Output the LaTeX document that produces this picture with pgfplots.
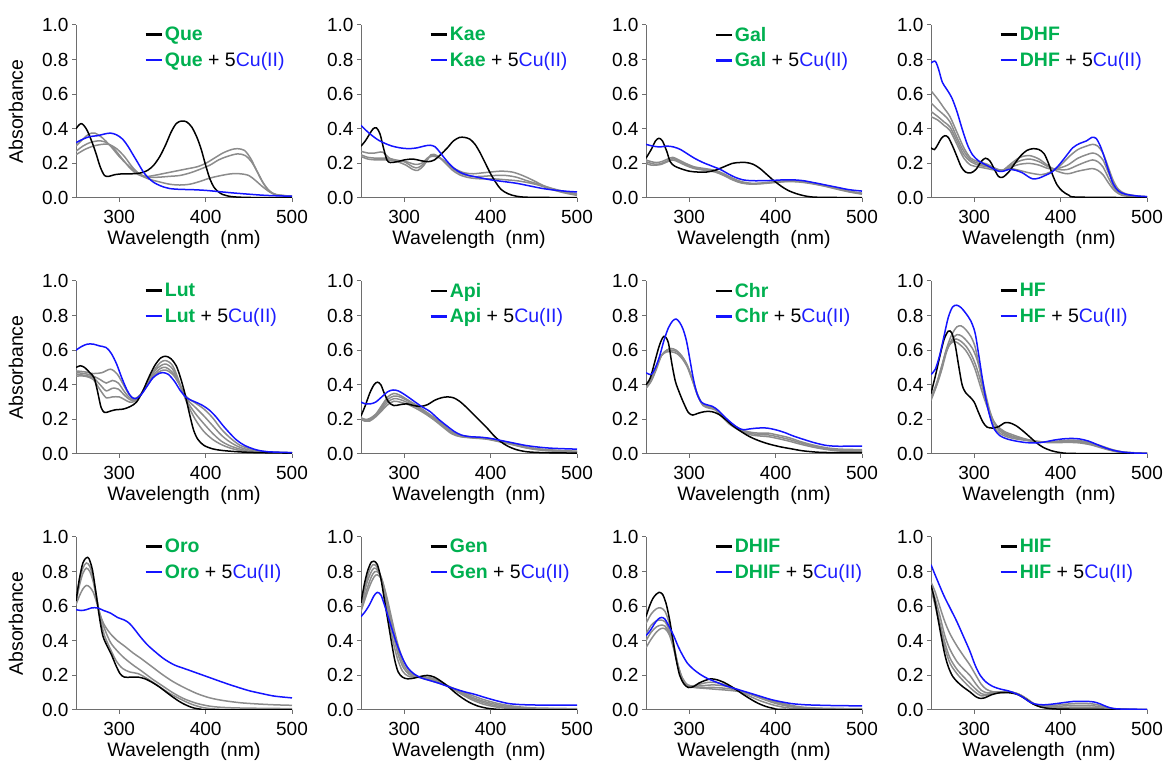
\documentclass[border=0pt]{standalone}
\usepackage{pgfplots}
\pgfplotsset{compat=1.18}
\usepackage{fontspec}
\setmainfont{Liberation Sans}
\definecolor{grn}{RGB}{0,176,80}
\definecolor{cublue}{RGB}{30,30,255}
\definecolor{lblue}{RGB}{20,20,255}
\definecolor{cgray}{RGB}{140,140,140}
\definecolor{axcol}{RGB}{110,110,110}
\newcommand\nm[1]{\textcolor{grn}{\textbf{#1}}}
\newcommand\cu{\textcolor{cublue}{Cu(II)}}
\newcommand\fs{\fontsize{19.5}{22}\selectfont}
\newcommand\ft{\fontsize{19}{21}\selectfont}
\pgfplotsset{
 panel/.style={
  scale only axis, width=216pt, height=173pt, anchor=south west,
  xmin=250, xmax=500, ymin=0, ymax=1,
  axis x line*=bottom, axis y line*=left,
  axis line style={axcol, line width=1pt, -},
  xtick={300,400,500}, ytick={0,0.2,0.4,0.6,0.8,1},
  tick align=outside, major tick length=4pt,
  tick style={axcol, line width=1pt},
  /pgf/number format/assume math mode=true,
  yticklabel style={/pgf/number format/.cd, fixed, fixed zerofill, precision=1, /tikz/.cd},
  xticklabel style={/pgf/number format/.cd, fixed, precision=0, 1000 sep={}, /tikz/.cd, yshift=-5pt},
  tick label style={font=\ft, text=black},
  label style={font=\fs},
  xlabel={Wavelength\ \ (nm)},
  xlabel style={yshift=0pt},
  ylabel style={yshift=12pt},
  legend style={draw=none, fill=none, font=\fs, at={(0.315,1.0)}, anchor=north west,
    row sep=6pt, inner sep=0pt},
  legend cell align=left,
  legend image code/.code={\draw[#1, line width=2.6pt] (0pt,0pt) -- (16pt,0pt);},
 },
 gr/.style={cgray, line width=1.5pt, smooth, forget plot},
 bk/.style={black, line width=1.5pt, smooth},
 bl/.style={lblue, line width=1.5pt, smooth},
}
\begin{document}
\begin{tikzpicture}
\useasboundingbox (0,0) rectangle (1167pt,762pt);
% ---------------- Row 1 ----------------
\begin{axis}[panel, at={(76pt,564pt)}, ylabel={Absorbance}]
\addplot[gr] coordinates {(250,0.30)(258,0.34)(265,0.37)(272,0.375)(280,0.35)(290,0.30)(300,0.24)(310,0.19)(320,0.15)(330,0.125)(340,0.13)(350,0.14)(360,0.15)(370,0.16)(380,0.17)(390,0.18)(400,0.20)(410,0.23)(420,0.26)(430,0.28)(437,0.285)(445,0.275)(452,0.23)(458,0.17)(465,0.10)(472,0.05)(480,0.02)(490,0.012)(500,0.01)};
\addplot[gr] coordinates {(250,0.27)(258,0.30)(266,0.32)(275,0.33)(283,0.325)(293,0.29)(303,0.23)(313,0.17)(322,0.135)(332,0.12)(345,0.12)(358,0.125)(370,0.13)(382,0.145)(393,0.165)(405,0.19)(415,0.22)(425,0.24)(437,0.255)(446,0.245)(453,0.21)(460,0.15)(467,0.085)(474,0.04)(482,0.02)(500,0.01)};
\addplot[gr] coordinates {(250,0.25)(260,0.28)(270,0.30)(280,0.31)(288,0.31)(297,0.285)(306,0.24)(315,0.18)(324,0.135)(334,0.11)(345,0.095)(358,0.08)(370,0.075)(382,0.08)(393,0.095)(405,0.115)(418,0.13)(430,0.14)(440,0.14)(450,0.13)(458,0.10)(466,0.065)(474,0.035)(482,0.018)(500,0.01)};
\addplot[bk] coordinates {(250,0.40)(253,0.42)(256,0.43)(259,0.42)(263,0.39)(268,0.33)(273,0.26)(278,0.18)(283,0.13)(288,0.125)(295,0.135)(305,0.14)(315,0.14)(325,0.145)(333,0.16)(340,0.19)(347,0.24)(354,0.31)(360,0.38)(366,0.43)(372,0.445)(378,0.44)(384,0.41)(390,0.35)(395,0.28)(400,0.19)(405,0.11)(410,0.06)(415,0.035)(420,0.02)(430,0.008)(450,0.003)(500,0.002)};
\addplot[bl] coordinates {(250,0.32)(258,0.34)(266,0.355)(275,0.36)(283,0.37)(290,0.375)(297,0.365)(304,0.34)(310,0.30)(316,0.25)(322,0.20)(328,0.15)(334,0.115)(340,0.09)(348,0.07)(358,0.055)(370,0.05)(385,0.048)(400,0.044)(415,0.037)(430,0.03)(450,0.022)(470,0.015)(500,0.01)};
\legend{\nm{Que}, \nm{Que} + 5\cu}
\end{axis}
\begin{axis}[panel, at={(361pt,564pt)}]
\addplot[gr] coordinates {(250,0.27)(258,0.26)(266,0.26)(275,0.265)(283,0.23)(292,0.215)(302,0.21)(312,0.195)(320,0.20)(328,0.235)(335,0.24)(342,0.23)(350,0.20)(360,0.165)(370,0.145)(380,0.14)(390,0.145)(400,0.15)(412,0.155)(425,0.15)(437,0.13)(450,0.10)(462,0.07)(475,0.05)(488,0.035)(500,0.025)};
\addplot[gr] coordinates {(250,0.25)(258,0.235)(268,0.23)(280,0.23)(290,0.22)(300,0.21)(310,0.18)(316,0.175)(323,0.20)(331,0.245)(338,0.24)(346,0.215)(356,0.17)(366,0.14)(378,0.125)(390,0.125)(405,0.13)(418,0.13)(430,0.12)(442,0.10)(455,0.08)(470,0.055)(485,0.035)(500,0.02)};
\addplot[gr] coordinates {(250,0.24)(258,0.225)(268,0.22)(282,0.22)(292,0.21)(302,0.19)(310,0.165)(316,0.16)(323,0.19)(331,0.25)(338,0.245)(346,0.21)(356,0.16)(366,0.13)(378,0.115)(392,0.11)(405,0.11)(418,0.105)(430,0.10)(442,0.09)(455,0.075)(470,0.05)(485,0.03)(500,0.015)};
\addplot[bk] coordinates {(250,0.30)(255,0.33)(260,0.37)(264,0.40)(268,0.405)(272,0.37)(276,0.29)(280,0.22)(284,0.205)(292,0.21)(300,0.22)(310,0.225)(320,0.215)(328,0.21)(335,0.22)(342,0.25)(350,0.29)(357,0.33)(364,0.35)(370,0.35)(376,0.34)(382,0.31)(388,0.26)(394,0.20)(400,0.14)(406,0.09)(412,0.05)(420,0.025)(430,0.01)(445,0.004)(500,0.002)};
\addplot[bl] coordinates {(250,0.42)(256,0.39)(263,0.36)(270,0.335)(278,0.315)(286,0.30)(295,0.29)(305,0.285)(315,0.29)(323,0.30)(330,0.305)(336,0.295)(342,0.26)(350,0.21)(358,0.17)(366,0.145)(375,0.13)(385,0.12)(400,0.105)(415,0.095)(430,0.085)(445,0.07)(460,0.055)(475,0.045)(490,0.038)(500,0.035)};
\legend{\nm{Kae}, \nm{Kae} + 5\cu}
\end{axis}
\begin{axis}[panel, at={(646pt,564pt)}]
\addplot[gr] coordinates {(250,0.22)(256,0.21)(262,0.205)(268,0.21)(275,0.225)(281,0.235)(288,0.22)(296,0.20)(306,0.18)(318,0.17)(330,0.16)(340,0.14)(350,0.115)(360,0.095)(372,0.085)(385,0.087)(400,0.095)(415,0.10)(428,0.098)(440,0.09)(455,0.075)(470,0.058)(485,0.04)(500,0.028)};
\addplot[gr] coordinates {(250,0.21)(256,0.20)(262,0.195)(268,0.20)(275,0.215)(281,0.228)(288,0.213)(296,0.193)(306,0.175)(318,0.165)(330,0.155)(340,0.135)(350,0.11)(360,0.09)(372,0.082)(385,0.085)(400,0.092)(415,0.097)(428,0.095)(440,0.087)(455,0.072)(470,0.055)(485,0.038)(500,0.025)};
\addplot[gr] coordinates {(250,0.20)(256,0.19)(262,0.19)(268,0.195)(275,0.21)(281,0.22)(288,0.207)(296,0.188)(306,0.17)(318,0.16)(330,0.15)(340,0.13)(350,0.105)(360,0.087)(372,0.08)(385,0.083)(400,0.09)(415,0.095)(428,0.092)(440,0.084)(455,0.07)(470,0.052)(485,0.035)(500,0.022)};
\addplot[bk] coordinates {(250,0.23)(256,0.28)(261,0.33)(265,0.345)(269,0.33)(274,0.27)(278,0.21)(283,0.185)(290,0.17)(300,0.155)(310,0.15)(320,0.15)(330,0.16)(340,0.18)(350,0.20)(358,0.205)(366,0.205)(374,0.195)(382,0.17)(390,0.135)(398,0.10)(406,0.07)(414,0.045)(424,0.025)(436,0.01)(450,0.004)(500,0.002)};
\addplot[bl] coordinates {(250,0.31)(258,0.30)(266,0.295)(274,0.30)(282,0.295)(290,0.28)(298,0.255)(306,0.23)(316,0.205)(326,0.185)(336,0.165)(345,0.14)(353,0.12)(362,0.105)(372,0.10)(385,0.10)(398,0.102)(410,0.105)(420,0.105)(432,0.10)(445,0.088)(458,0.075)(470,0.063)(485,0.048)(500,0.04)};
\legend{\nm{Gal}, \nm{Gal} + 5\cu}
\end{axis}
\begin{axis}[panel, at={(931pt,564pt)}]
\addplot[gr] coordinates {(250,0.62)(258,0.57)(265,0.52)(272,0.47)(280,0.38)(288,0.29)(296,0.23)(305,0.21)(315,0.195)(325,0.17)(333,0.16)(342,0.17)(352,0.16)(364,0.145)(378,0.135)(388,0.15)(398,0.18)(410,0.24)(420,0.28)(430,0.30)(437,0.31)(443,0.30)(449,0.26)(455,0.18)(461,0.10)(467,0.05)(475,0.025)(488,0.012)(500,0.008)};
\addplot[gr] coordinates {(250,0.55)(258,0.51)(265,0.48)(272,0.44)(280,0.35)(288,0.27)(296,0.22)(305,0.20)(315,0.185)(325,0.165)(333,0.16)(343,0.18)(353,0.195)(364,0.20)(375,0.19)(386,0.17)(396,0.17)(408,0.19)(420,0.23)(430,0.25)(437,0.26)(443,0.25)(449,0.22)(455,0.15)(461,0.085)(467,0.04)(475,0.02)(488,0.01)(500,0.006)};
\addplot[gr] coordinates {(250,0.50)(258,0.47)(265,0.44)(272,0.41)(280,0.33)(288,0.25)(296,0.21)(305,0.19)(315,0.18)(325,0.165)(333,0.16)(343,0.19)(353,0.215)(364,0.225)(375,0.21)(386,0.18)(396,0.165)(408,0.165)(420,0.19)(430,0.21)(437,0.22)(443,0.21)(449,0.18)(455,0.12)(461,0.065)(467,0.03)(475,0.015)(500,0.005)};
\addplot[gr] coordinates {(250,0.47)(258,0.45)(265,0.42)(272,0.39)(280,0.31)(288,0.23)(296,0.19)(305,0.18)(315,0.17)(325,0.16)(333,0.16)(343,0.20)(353,0.235)(364,0.245)(375,0.225)(386,0.185)(396,0.155)(408,0.14)(420,0.155)(430,0.165)(437,0.17)(443,0.16)(449,0.135)(455,0.09)(461,0.05)(467,0.025)(475,0.012)(500,0.004)};
\addplot[bk] coordinates {(250,0.29)(254,0.28)(258,0.31)(262,0.345)(266,0.36)(270,0.35)(275,0.30)(280,0.24)(285,0.18)(290,0.15)(296,0.145)(302,0.165)(308,0.21)(313,0.23)(318,0.215)(323,0.17)(328,0.125)(333,0.12)(340,0.15)(347,0.20)(354,0.245)(361,0.275)(368,0.285)(375,0.28)(381,0.255)(386,0.20)(391,0.13)(396,0.075)(402,0.04)(410,0.015)(420,0.005)(500,0.002)};
\addplot[bl] coordinates {(250,0.78)(255,0.79)(259,0.74)(263,0.67)(268,0.63)(274,0.58)(280,0.50)(286,0.40)(292,0.31)(298,0.25)(305,0.215)(312,0.195)(320,0.175)(328,0.155)(334,0.155)(340,0.165)(348,0.16)(356,0.145)(362,0.125)(368,0.11)(375,0.115)(382,0.13)(390,0.15)(398,0.19)(406,0.24)(414,0.29)(422,0.315)(430,0.33)(436,0.35)(441,0.345)(446,0.30)(451,0.23)(456,0.15)(461,0.08)(467,0.04)(475,0.022)(488,0.012)(500,0.008)};
\legend{\nm{DHF}, \nm{DHF} + 5\cu}
\end{axis}
% ---------------- Row 2 ----------------
\begin{axis}[panel, at={(76pt,308pt)}, ylabel={Absorbance}]
\addplot[gr] coordinates {(250,0.48)(260,0.475)(270,0.465)(280,0.47)(290,0.49)(298,0.46)(306,0.39)(312,0.34)(318,0.32)(325,0.345)(333,0.40)(341,0.455)(348,0.48)(354,0.485)(362,0.46)(370,0.40)(378,0.33)(388,0.295)(398,0.26)(408,0.21)(418,0.145)(428,0.095)(440,0.05)(455,0.025)(470,0.013)(500,0.008)};
\addplot[gr] coordinates {(250,0.47)(260,0.465)(270,0.45)(278,0.43)(285,0.41)(292,0.425)(299,0.41)(306,0.36)(312,0.325)(318,0.315)(325,0.345)(333,0.405)(341,0.465)(348,0.495)(354,0.50)(362,0.47)(370,0.40)(378,0.32)(388,0.27)(398,0.22)(408,0.165)(418,0.11)(428,0.07)(440,0.038)(455,0.018)(470,0.01)(500,0.006)};
\addplot[gr] coordinates {(250,0.46)(260,0.455)(270,0.44)(278,0.40)(285,0.365)(292,0.38)(299,0.375)(306,0.34)(312,0.315)(318,0.31)(325,0.345)(333,0.41)(341,0.48)(348,0.51)(354,0.52)(362,0.49)(370,0.40)(378,0.31)(388,0.235)(398,0.175)(408,0.12)(418,0.075)(428,0.048)(440,0.028)(455,0.014)(500,0.005)};
\addplot[gr] coordinates {(250,0.45)(260,0.45)(270,0.43)(278,0.37)(285,0.325)(292,0.33)(300,0.33)(306,0.315)(312,0.30)(318,0.305)(325,0.345)(333,0.42)(341,0.49)(348,0.53)(354,0.54)(362,0.51)(370,0.41)(378,0.30)(388,0.20)(398,0.13)(408,0.085)(418,0.055)(428,0.035)(440,0.02)(455,0.01)(500,0.005)};
\addplot[bk] coordinates {(250,0.50)(255,0.51)(260,0.50)(266,0.47)(271,0.44)(275,0.36)(279,0.27)(283,0.24)(288,0.245)(295,0.255)(305,0.26)(313,0.275)(320,0.30)(327,0.36)(334,0.44)(341,0.51)(348,0.555)(354,0.565)(360,0.55)(366,0.51)(371,0.44)(376,0.35)(381,0.24)(386,0.14)(391,0.085)(398,0.05)(408,0.03)(420,0.02)(440,0.012)(460,0.008)(500,0.005)};
\addplot[bl] coordinates {(250,0.60)(256,0.62)(263,0.635)(270,0.635)(277,0.625)(285,0.615)(291,0.58)(297,0.52)(303,0.44)(309,0.37)(314,0.33)(319,0.32)(325,0.34)(332,0.39)(339,0.44)(346,0.465)(351,0.47)(357,0.46)(364,0.42)(371,0.365)(378,0.325)(386,0.305)(395,0.285)(404,0.255)(412,0.215)(420,0.165)(428,0.12)(436,0.08)(445,0.05)(458,0.025)(472,0.013)(500,0.008)};
\legend{\nm{Lut}, \nm{Lut} + 5\cu}
\end{axis}
\begin{axis}[panel, at={(361pt,308pt)}]
\addplot[gr] coordinates {(250,0.21)(255,0.20)(260,0.205)(267,0.23)(274,0.28)(281,0.33)(288,0.35)(295,0.34)(305,0.31)(315,0.28)(325,0.245)(335,0.21)(345,0.17)(355,0.13)(365,0.108)(380,0.098)(395,0.092)(410,0.077)(425,0.06)(440,0.042)(455,0.03)(475,0.022)(500,0.016)};
\addplot[gr] coordinates {(250,0.205)(255,0.195)(260,0.2)(267,0.225)(274,0.27)(281,0.315)(288,0.335)(295,0.33)(305,0.305)(315,0.275)(325,0.24)(335,0.205)(345,0.165)(355,0.125)(365,0.105)(380,0.096)(395,0.09)(410,0.075)(425,0.058)(440,0.04)(455,0.028)(475,0.02)(500,0.014)};
\addplot[gr] coordinates {(250,0.20)(255,0.19)(260,0.195)(267,0.22)(274,0.26)(281,0.30)(288,0.32)(295,0.315)(305,0.295)(315,0.27)(325,0.235)(335,0.20)(345,0.16)(355,0.12)(365,0.102)(380,0.094)(395,0.088)(410,0.073)(425,0.056)(440,0.038)(455,0.026)(475,0.018)(500,0.012)};
\addplot[gr] coordinates {(250,0.20)(255,0.19)(260,0.19)(267,0.215)(274,0.25)(281,0.285)(288,0.305)(295,0.30)(305,0.285)(315,0.26)(325,0.23)(335,0.195)(345,0.155)(355,0.117)(365,0.10)(380,0.092)(395,0.086)(410,0.071)(425,0.054)(440,0.036)(455,0.024)(475,0.016)(500,0.01)};
\addplot[bk] coordinates {(250,0.22)(255,0.28)(260,0.35)(265,0.40)(269,0.415)(273,0.40)(277,0.35)(282,0.30)(288,0.28)(295,0.285)(303,0.29)(311,0.28)(319,0.275)(327,0.285)(335,0.31)(343,0.325)(350,0.33)(357,0.325)(364,0.305)(372,0.27)(380,0.23)(388,0.19)(396,0.15)(404,0.105)(412,0.07)(420,0.045)(430,0.025)(442,0.013)(460,0.008)(500,0.005)};
\addplot[bl] coordinates {(250,0.30)(255,0.29)(261,0.29)(267,0.30)(274,0.33)(281,0.36)(287,0.37)(293,0.365)(300,0.345)(310,0.31)(320,0.275)(330,0.245)(340,0.20)(350,0.16)(358,0.13)(366,0.11)(376,0.10)(388,0.097)(400,0.09)(412,0.078)(425,0.065)(440,0.05)(455,0.04)(472,0.033)(500,0.028)};
\legend{\nm{Api}, \nm{Api} + 5\cu}
\end{axis}
\begin{axis}[panel, at={(646pt,308pt)}]
\addplot[gr] coordinates {(250,0.38)(256,0.42)(262,0.49)(268,0.57)(274,0.60)(279,0.61)(285,0.60)(291,0.57)(297,0.52)(303,0.44)(309,0.35)(315,0.29)(322,0.275)(330,0.265)(338,0.225)(346,0.185)(355,0.155)(363,0.135)(372,0.125)(382,0.12)(392,0.12)(402,0.11)(415,0.095)(430,0.07)(445,0.05)(460,0.035)(475,0.028)(500,0.025)};
\addplot[gr] coordinates {(250,0.38)(256,0.43)(262,0.50)(268,0.57)(274,0.60)(280,0.60)(286,0.59)(292,0.56)(298,0.51)(304,0.43)(310,0.34)(316,0.285)(323,0.27)(330,0.26)(338,0.22)(346,0.18)(355,0.15)(363,0.13)(372,0.118)(382,0.112)(392,0.11)(402,0.10)(415,0.085)(430,0.063)(445,0.045)(460,0.03)(475,0.022)(500,0.018)};
\addplot[gr] coordinates {(250,0.38)(256,0.44)(262,0.51)(268,0.57)(274,0.59)(280,0.59)(286,0.58)(292,0.55)(298,0.50)(304,0.42)(310,0.335)(316,0.28)(323,0.265)(330,0.255)(338,0.215)(346,0.175)(355,0.145)(363,0.125)(372,0.11)(382,0.104)(392,0.10)(402,0.09)(415,0.075)(430,0.055)(445,0.038)(460,0.025)(475,0.017)(500,0.012)};
\addplot[bk] coordinates {(250,0.40)(255,0.44)(260,0.53)(265,0.62)(269,0.67)(272,0.68)(276,0.64)(280,0.52)(284,0.42)(289,0.35)(294,0.29)(299,0.24)(304,0.225)(310,0.235)(318,0.245)(326,0.245)(334,0.23)(342,0.20)(350,0.165)(360,0.13)(370,0.10)(380,0.078)(392,0.058)(405,0.042)(418,0.03)(432,0.018)(450,0.01)(470,0.008)(500,0.008)};
\addplot[bl] coordinates {(250,0.47)(256,0.46)(261,0.50)(266,0.57)(271,0.66)(276,0.73)(281,0.77)(285,0.78)(289,0.76)(293,0.72)(297,0.65)(301,0.54)(305,0.43)(309,0.35)(314,0.30)(320,0.285)(327,0.275)(334,0.25)(342,0.21)(350,0.175)(357,0.15)(363,0.14)(370,0.145)(380,0.15)(390,0.15)(400,0.14)(410,0.125)(420,0.105)(432,0.085)(445,0.065)(458,0.05)(470,0.045)(485,0.045)(500,0.045)};
\legend{\nm{Chr}, \nm{Chr} + 5\cu}
\end{axis}
\begin{axis}[panel, at={(931pt,308pt)}]
\addplot[gr] coordinates {(250,0.33)(256,0.40)(262,0.50)(268,0.61)(274,0.69)(280,0.735)(285,0.74)(290,0.72)(296,0.68)(301,0.62)(306,0.50)(311,0.37)(316,0.26)(321,0.18)(327,0.13)(335,0.105)(345,0.09)(358,0.08)(370,0.072)(385,0.07)(398,0.075)(410,0.08)(422,0.077)(435,0.065)(448,0.045)(460,0.025)(472,0.012)(485,0.006)(500,0.005)};
\addplot[gr] coordinates {(250,0.32)(256,0.39)(262,0.48)(268,0.59)(274,0.66)(280,0.69)(286,0.68)(292,0.65)(298,0.61)(303,0.55)(308,0.46)(313,0.35)(318,0.25)(323,0.18)(329,0.135)(337,0.11)(347,0.095)(358,0.083)(370,0.073)(385,0.07)(398,0.073)(410,0.077)(422,0.074)(435,0.062)(448,0.042)(460,0.023)(472,0.011)(485,0.006)(500,0.005)};
\addplot[gr] coordinates {(250,0.31)(256,0.39)(262,0.49)(268,0.60)(274,0.65)(279,0.665)(285,0.65)(291,0.62)(297,0.57)(302,0.51)(307,0.43)(312,0.34)(317,0.26)(322,0.195)(328,0.15)(336,0.12)(346,0.10)(358,0.086)(370,0.074)(385,0.068)(398,0.07)(410,0.073)(422,0.07)(435,0.058)(448,0.038)(460,0.02)(472,0.01)(500,0.005)};
\addplot[gr] coordinates {(250,0.32)(256,0.40)(262,0.50)(268,0.60)(273,0.64)(278,0.65)(284,0.63)(290,0.60)(296,0.55)(301,0.49)(306,0.41)(311,0.33)(316,0.26)(321,0.20)(327,0.16)(335,0.13)(345,0.11)(357,0.09)(370,0.075)(385,0.066)(398,0.066)(410,0.067)(422,0.064)(435,0.053)(448,0.034)(460,0.018)(472,0.009)(500,0.005)};
\addplot[bk] coordinates {(250,0.35)(255,0.45)(260,0.56)(265,0.66)(270,0.71)(274,0.70)(278,0.63)(282,0.51)(286,0.40)(290,0.355)(295,0.33)(300,0.30)(305,0.24)(310,0.185)(315,0.155)(322,0.15)(329,0.16)(335,0.18)(341,0.18)(348,0.165)(356,0.135)(364,0.10)(372,0.065)(380,0.038)(390,0.018)(400,0.008)(415,0.003)(500,0.001)};
\addplot[bl] coordinates {(250,0.46)(255,0.49)(260,0.57)(265,0.68)(270,0.79)(275,0.85)(280,0.86)(285,0.845)(290,0.815)(296,0.77)(301,0.70)(305,0.58)(309,0.45)(313,0.33)(318,0.22)(323,0.145)(330,0.105)(338,0.087)(348,0.075)(360,0.066)(372,0.064)(382,0.07)(392,0.08)(402,0.087)(412,0.09)(422,0.087)(432,0.075)(442,0.055)(452,0.035)(462,0.02)(474,0.01)(488,0.005)(500,0.004)};
\legend{\nm{HF}, \nm{HF} + 5\cu}
\end{axis}
% ---------------- Row 3 ----------------
\begin{axis}[panel, at={(76pt,52pt)}, ylabel={Absorbance}]
\addplot[gr] coordinates {(250,0.62)(254,0.72)(258,0.79)(262,0.82)(266,0.80)(270,0.74)(274,0.64)(278,0.55)(283,0.49)(290,0.44)(298,0.40)(306,0.37)(316,0.33)(326,0.295)(338,0.25)(350,0.205)(362,0.165)(375,0.13)(390,0.095)(405,0.07)(420,0.055)(440,0.042)(460,0.035)(480,0.03)(500,0.027)};
\addplot[gr] coordinates {(250,0.61)(254,0.66)(258,0.70)(262,0.72)(266,0.71)(270,0.68)(274,0.62)(278,0.55)(283,0.47)(290,0.39)(298,0.34)(306,0.30)(316,0.26)(326,0.225)(338,0.18)(350,0.14)(362,0.10)(375,0.065)(390,0.038)(405,0.022)(420,0.015)(445,0.011)(500,0.008)};
\addplot[gr] coordinates {(250,0.63)(254,0.75)(258,0.82)(262,0.85)(266,0.83)(270,0.76)(274,0.65)(278,0.53)(283,0.43)(290,0.35)(297,0.28)(304,0.24)(312,0.22)(322,0.21)(333,0.18)(345,0.14)(357,0.10)(370,0.065)(383,0.035)(396,0.015)(410,0.006)(430,0.003)(500,0.002)};
\addplot[bk] coordinates {(250,0.63)(254,0.76)(258,0.85)(262,0.88)(265,0.875)(269,0.81)(273,0.68)(277,0.54)(281,0.43)(286,0.37)(291,0.32)(296,0.26)(301,0.21)(306,0.19)(314,0.19)(322,0.19)(330,0.18)(338,0.16)(346,0.135)(354,0.105)(362,0.075)(370,0.048)(378,0.027)(386,0.012)(395,0.004)(405,0.001)(500,0)};
\addplot[bl] coordinates {(250,0.58)(256,0.575)(262,0.58)(268,0.59)(275,0.59)(282,0.575)(290,0.56)(298,0.535)(306,0.52)(312,0.50)(318,0.465)(325,0.42)(333,0.375)(342,0.335)(352,0.295)(364,0.26)(378,0.235)(392,0.21)(406,0.185)(420,0.16)(435,0.135)(450,0.112)(465,0.095)(480,0.08)(500,0.07)};
\legend{\nm{Oro}, \nm{Oro} + 5\cu}
\end{axis}
\begin{axis}[panel, at={(361pt,52pt)}]
\addplot[gr] coordinates {(250,0.60)(256,0.74)(260,0.81)(264,0.84)(268,0.83)(272,0.78)(277,0.67)(282,0.53)(287,0.40)(292,0.30)(298,0.225)(305,0.195)(315,0.19)(327,0.19)(340,0.17)(352,0.135)(365,0.095)(378,0.06)(392,0.033)(408,0.016)(425,0.008)(450,0.004)(500,0.002)};
\addplot[gr] coordinates {(250,0.59)(256,0.72)(261,0.79)(265,0.82)(269,0.81)(273,0.77)(278,0.67)(283,0.54)(288,0.42)(293,0.32)(299,0.245)(306,0.205)(315,0.19)(327,0.185)(340,0.165)(352,0.135)(365,0.10)(378,0.068)(392,0.042)(408,0.022)(425,0.012)(450,0.006)(500,0.004)};
\addplot[gr] coordinates {(250,0.58)(257,0.70)(262,0.77)(266,0.80)(270,0.795)(274,0.76)(279,0.66)(284,0.54)(289,0.43)(294,0.33)(300,0.255)(307,0.21)(316,0.19)(327,0.18)(340,0.16)(352,0.135)(365,0.105)(378,0.075)(392,0.05)(408,0.03)(425,0.017)(450,0.009)(500,0.006)};
\addplot[gr] coordinates {(250,0.57)(258,0.69)(263,0.75)(267,0.78)(271,0.775)(275,0.74)(280,0.65)(285,0.54)(290,0.43)(295,0.34)(301,0.265)(308,0.215)(317,0.19)(327,0.175)(340,0.155)(352,0.135)(365,0.11)(378,0.085)(392,0.06)(408,0.038)(425,0.023)(450,0.012)(500,0.008)};
\addplot[bk] coordinates {(250,0.62)(254,0.73)(258,0.81)(262,0.855)(265,0.86)(269,0.84)(273,0.76)(277,0.64)(281,0.52)(285,0.40)(289,0.29)(293,0.22)(298,0.19)(304,0.18)(312,0.185)(320,0.195)(327,0.20)(335,0.19)(343,0.165)(351,0.135)(359,0.10)(367,0.07)(375,0.045)(384,0.025)(394,0.012)(405,0.005)(420,0.002)(500,0.001)};
\addplot[bl] coordinates {(250,0.54)(255,0.57)(260,0.61)(265,0.66)(269,0.68)(273,0.665)(277,0.61)(282,0.53)(287,0.45)(292,0.375)(298,0.30)(304,0.245)(311,0.21)(320,0.185)(330,0.17)(340,0.155)(350,0.137)(360,0.12)(370,0.105)(382,0.09)(395,0.07)(408,0.052)(420,0.038)(432,0.032)(450,0.029)(475,0.028)(500,0.028)};
\legend{\nm{Gen}, \nm{Gen} + 5\cu}
\end{axis}
\begin{axis}[panel, at={(646pt,52pt)}]
\addplot[gr] coordinates {(250,0.50)(256,0.555)(262,0.585)(267,0.59)(272,0.57)(277,0.50)(282,0.38)(287,0.26)(292,0.185)(298,0.145)(305,0.14)(313,0.15)(322,0.16)(332,0.158)(342,0.145)(352,0.125)(362,0.10)(372,0.075)(384,0.05)(398,0.028)(412,0.014)(430,0.007)(500,0.003)};
\addplot[gr] coordinates {(250,0.44)(256,0.49)(262,0.515)(267,0.52)(272,0.51)(277,0.46)(282,0.37)(287,0.26)(292,0.185)(298,0.145)(305,0.138)(315,0.14)(327,0.145)(340,0.14)(352,0.125)(364,0.103)(376,0.08)(388,0.058)(400,0.038)(414,0.022)(430,0.012)(455,0.007)(500,0.005)};
\addplot[gr] coordinates {(250,0.40)(256,0.45)(262,0.48)(267,0.49)(272,0.485)(277,0.445)(282,0.36)(287,0.255)(292,0.18)(298,0.14)(306,0.132)(318,0.13)(330,0.13)(343,0.125)(356,0.115)(368,0.097)(380,0.078)(392,0.058)(405,0.038)(418,0.022)(432,0.013)(455,0.008)(500,0.006)};
\addplot[gr] coordinates {(250,0.36)(256,0.41)(262,0.45)(267,0.47)(272,0.47)(277,0.435)(282,0.355)(287,0.25)(292,0.18)(298,0.14)(306,0.13)(318,0.125)(330,0.12)(343,0.115)(356,0.108)(368,0.095)(380,0.08)(392,0.062)(405,0.043)(418,0.027)(432,0.016)(455,0.01)(500,0.008)};
\addplot[bk] coordinates {(250,0.54)(254,0.60)(258,0.645)(262,0.67)(265,0.68)(269,0.67)(273,0.62)(277,0.53)(281,0.41)(285,0.29)(289,0.20)(294,0.15)(299,0.13)(305,0.135)(311,0.155)(318,0.17)(325,0.18)(332,0.175)(340,0.16)(348,0.138)(356,0.112)(364,0.085)(372,0.06)(380,0.038)(389,0.02)(398,0.009)(410,0.003)(500,0.001)};
\addplot[bl] coordinates {(250,0.43)(255,0.46)(260,0.50)(264,0.525)(268,0.535)(272,0.525)(277,0.48)(282,0.43)(287,0.37)(292,0.32)(298,0.27)(305,0.235)(313,0.205)(322,0.18)(332,0.16)(342,0.14)(352,0.125)(362,0.11)(372,0.095)(383,0.078)(395,0.06)(408,0.046)(420,0.036)(435,0.03)(455,0.027)(475,0.025)(500,0.024)};
\legend{\nm{DHIF}, \nm{DHIF} + 5\cu}
\end{axis}
\begin{axis}[panel, at={(931pt,52pt)}]
\addplot[gr] coordinates {(250,0.74)(255,0.68)(260,0.60)(266,0.51)(272,0.44)(280,0.37)(288,0.31)(295,0.26)(302,0.20)(308,0.15)(314,0.12)(322,0.105)(332,0.105)(342,0.105)(352,0.09)(361,0.065)(370,0.035)(380,0.026)(392,0.027)(405,0.033)(418,0.038)(430,0.038)(440,0.033)(450,0.02)(460,0.009)(475,0.004)(500,0.002)};
\addplot[gr] coordinates {(250,0.72)(255,0.64)(260,0.55)(266,0.43)(272,0.35)(280,0.28)(288,0.235)(295,0.20)(302,0.15)(308,0.115)(314,0.10)(322,0.10)(332,0.105)(342,0.105)(352,0.09)(361,0.063)(370,0.033)(380,0.022)(392,0.02)(405,0.024)(418,0.027)(430,0.027)(440,0.023)(450,0.014)(460,0.006)(475,0.003)(500,0.002)};
\addplot[gr] coordinates {(250,0.71)(255,0.61)(260,0.51)(266,0.39)(272,0.30)(280,0.235)(288,0.19)(295,0.155)(302,0.12)(308,0.095)(314,0.09)(322,0.097)(332,0.102)(342,0.103)(352,0.09)(361,0.062)(370,0.032)(380,0.018)(392,0.013)(405,0.015)(418,0.017)(430,0.017)(440,0.014)(450,0.009)(460,0.004)(500,0.002)};
\addplot[gr] coordinates {(250,0.70)(255,0.60)(260,0.49)(266,0.36)(272,0.27)(280,0.21)(288,0.165)(295,0.13)(302,0.10)(308,0.082)(314,0.085)(322,0.095)(332,0.10)(342,0.102)(352,0.09)(361,0.062)(370,0.031)(380,0.016)(392,0.01)(405,0.009)(418,0.009)(430,0.009)(440,0.007)(450,0.005)(500,0.001)};
\addplot[bk] coordinates {(250,0.72)(254,0.64)(258,0.53)(262,0.42)(266,0.32)(270,0.25)(275,0.195)(281,0.16)(288,0.13)(295,0.105)(301,0.08)(306,0.068)(312,0.07)(320,0.088)(330,0.10)(340,0.10)(350,0.09)(359,0.065)(368,0.035)(377,0.017)(388,0.008)(400,0.005)(420,0.004)(440,0.004)(460,0.002)(500,0.001)};
\addplot[bl] coordinates {(250,0.84)(254,0.79)(259,0.73)(265,0.66)(272,0.59)(280,0.51)(288,0.42)(295,0.34)(301,0.26)(307,0.20)(314,0.16)(322,0.135)(331,0.12)(340,0.11)(348,0.095)(356,0.075)(363,0.05)(370,0.035)(380,0.03)(392,0.035)(404,0.043)(416,0.05)(428,0.05)(438,0.047)(446,0.035)(454,0.018)(462,0.008)(475,0.005)(500,0.004)};
\legend{\nm{HIF}, \nm{HIF} + 5\cu}
\end{axis}
\end{tikzpicture}
\end{document}
